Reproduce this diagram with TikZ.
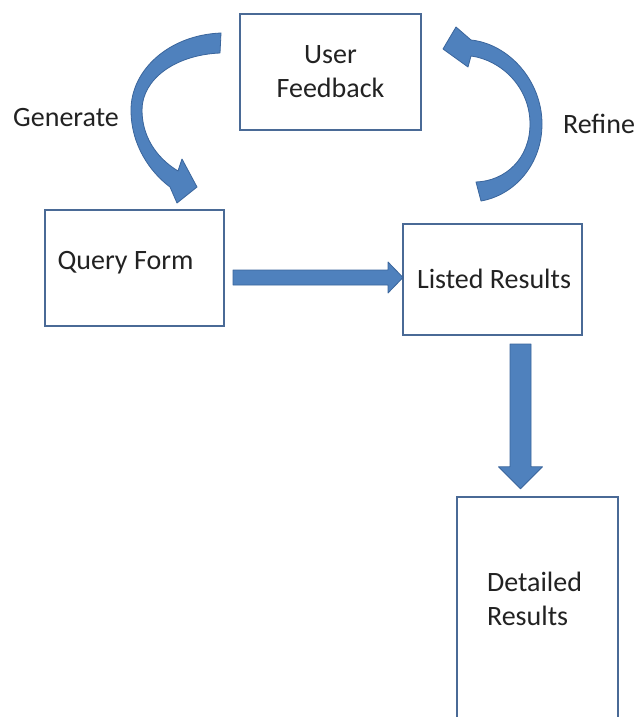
\documentclass[tikz,border=0pt]{standalone}
\usepackage{fontspec}
\setmainfont{Carlito}
\usetikzlibrary{calc}
\definecolor{boxline}{HTML}{4A6A96}
\definecolor{arrfill}{HTML}{4F81BD}
\definecolor{arrline}{HTML}{3A659C}
\definecolor{txt}{HTML}{222222}
\begin{document}
\begin{tikzpicture}[x=1pt,y=-1pt,
  box/.style={draw=boxline,line width=2pt,fill=white,rectangle,inner sep=0pt},
  openbox/.style={rectangle,inner sep=0pt},
  lbl/.style={font=\fontsize{28}{34}\selectfont,text=txt,inner sep=0pt,align=center},
  blockarrow/.style={fill=arrfill,draw=arrline,line width=0.8pt,line join=round}]
\useasboundingbox[fill=white] (0,0) rectangle (640,717);

% boxes
\node[box,minimum width=181pt,minimum height=116pt] (uf) at (330.5,72) {};
\node[box,minimum width=179pt,minimum height=116pt] (qf) at (134.5,268) {};
\node[box,minimum width=179pt,minimum height=111pt] (lr) at (492.5,279.5) {};
\node[openbox,minimum width=161pt,minimum height=220pt] (dr) at (537.5,607) {};
\draw[draw=boxline,line width=2pt] (dr.south west) -- (dr.north west) -- (dr.north east) -- (dr.south east);

% texts
\node[lbl] (uft) at (uf.center) {User\\Feedback};
\node[lbl] (qft) at ($(qf.center)+(-9,-5)$) {Query Form};
\node[lbl] (lrt) at ($(lr.center)+(1.5,-1)$) {Listed Results};
\node[lbl,align=left] (drt) at ($(dr.center)+(-3,-8)$) {Detailed\\Results};
\node[lbl] (gen) at (66,118) {Generate};
\node[lbl] (ref) at (599,124) {Refine};

% straight block arrow: Query Form -> Listed Results
\coordinate (h1) at ($(qf.east)+(8,9.5)$);
\coordinate (h2) at ($(lr.west)+(1,-2)$);
\filldraw[blockarrow] ($(h1)+(0,-7.5)$) -- ($(h2)+(-15,-7.5)$) -- ($(h2)+(-15,-15.5)$) -- (h2)
  -- ($(h2)+(-15,15.5)$) -- ($(h2)+(-15,7.5)$) -- ($(h1)+(0,7.5)$) -- cycle;

% straight block arrow: Listed Results -> Detailed Results
\coordinate (v1) at ($(lr.south)+(28,8)$);
\coordinate (v2) at ($(dr.north)+(-17,-8)$);
\filldraw[blockarrow] ($(v1)+(-10.5,0)$) -- ($(v1)+(10.5,0)$) -- ($(v2)+(10.5,-22)$) -- ($(v2)+(22,-22)$)
  -- (v2) -- ($(v2)+(-22,-22)$) -- ($(v2)+(-10.5,-22)$) -- cycle;

% curved arrow: User Feedback -> Query Form (Generate)
\coordinate (g1) at ($(uf.west)+(-18,-29)$);
\coordinate (g2) at ($(qf.north)+(62.5,-22)$);
\filldraw[blockarrow] ($(g1)+(0,-10)$)
  .. controls ($(g1)+(-52,-8)$) and ($(g1)+(-90,27)$) .. ($(g1)+(-90,67)$)
  .. controls ($(g1)+(-90,102)$) and ($(g2)+(-47,-15)$) .. ($(g2)+(-27,0)$)
  -- ($(g2)+(-20,16)$) -- (g2) -- ($(g2)+(-15,-28)$) -- ($(g2)+(-19,-16)$)
  .. controls ($(g2)+(-42,-30)$) and ($(g1)+(-79,92)$) .. ($(g1)+(-79,67)$)
  .. controls ($(g1)+(-79,37)$) and ($(g1)+(-47,12)$) .. ($(g1)+(-1,10)$) -- cycle;

% curved arrow: Listed Results -> User Feedback (Refine)
\coordinate (r1) at ($(lr.north)+(-14.5,-32)$);
\coordinate (r2) at ($(uf.east)+(21,-23)$);
\filldraw[blockarrow] ($(r1)+(-2,-9)$) -- ($(r1)+(3,10)$)
  .. controls ($(r1)+(37,4)$) and ($(r1)+(64,-27)$) .. ($(r1)+(64,-67)$)
  .. controls ($(r1)+(64,-110)$) and ($(r2)+(66,-5)$) .. ($(r2)+(28,-9)$)
  -- ($(r2)+(13,-22)$) -- (r2) -- ($(r2)+(25,18)$) -- ($(r2)+(28,7)$)
  .. controls ($(r2)+(58,11)$) and ($(r1)+(52,-104)$) .. ($(r1)+(52,-67)$)
  .. controls ($(r1)+(52,-32)$) and ($(r1)+(27,-10)$) .. ($(r1)+(-2,-9)$) -- cycle;
\end{tikzpicture}
\end{document}
